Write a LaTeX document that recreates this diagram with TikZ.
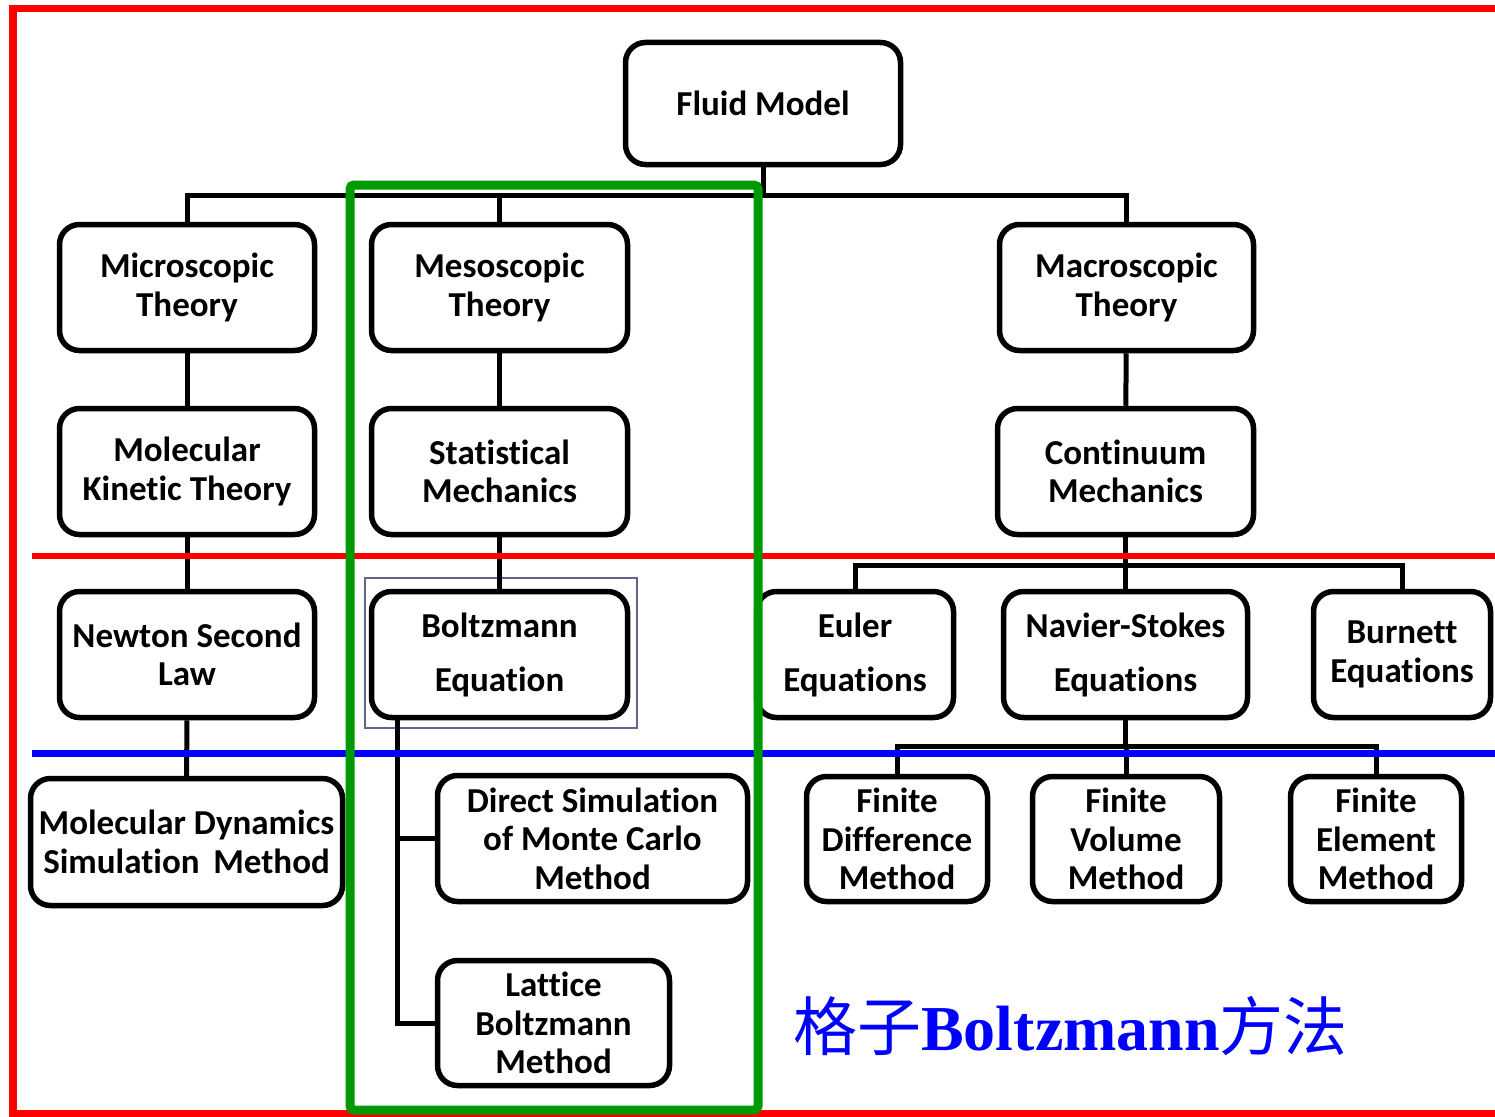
\documentclass[tikz,border=0pt]{standalone}
\usepackage{fontspec}
\setmainfont{Carlito}[Ligatures=NoCommon]
\newfontfamily\cjkfont{Noto Sans CJK SC}
\newfontfamily\serifbold{Liberation Serif}
\usetikzlibrary{calc}
\definecolor{myred}{RGB}{255,0,0}
\definecolor{mygreen}{RGB}{0,153,0}
\definecolor{myblue}{RGB}{0,0,255}
\definecolor{framec}{RGB}{100,100,140}
\newcommand\bxfont{\bfseries\fontsize{35}{38.5}\selectfont}
\begin{document}
\begin{tikzpicture}[x=1pt,y=-1pt,
  box/.style={draw, line width=5.5pt, rounded corners=20pt, fill=white, align=center, inner sep=0pt, font=\bxfont},
  conn/.style={line width=5pt},
  sepline/.style={line width=7pt},
]
\useasboundingbox (0,0) rectangle (1495,1116);
\clip (0,0) rectangle (1495,1116);
\fill[white] (0,0) rectangle (1495,1116);

% bus levels
\coordinate (b1) at (0,195);
\coordinate (b2) at (0,565);
\coordinate (b3) at (0,746);

% Boltzmann thin frame
\node[draw=framec, line width=1.5pt, minimum width=272, minimum height=150, inner sep=0pt] (bframe) at (501,653) {};

% boxes
\node[box, minimum width=275, minimum height=122] (fluid) at (763,103.5) {Fluid Model};
\node[box, minimum width=255, minimum height=126] (micro) at (187,287.5) {Microscopic\\Theory};
\node[box, minimum width=256, minimum height=126] (meso) at (499.5,287.5) {Mesoscopic\\Theory};
\node[box, minimum width=254, minimum height=126] (macro) at (1126.5,287.5) {Macroscopic\\Theory};
\node[box, minimum width=255, minimum height=126] (mkt) at (187,471.5) {Molecular\\Kinetic Theory};
\node[box, minimum width=256, minimum height=126] (stat) at (499.5,471.5) {Statistical\\Mechanics};
\node[box, minimum width=256, minimum height=126] (cont) at (1125.5,471.5) {Continuum\\Mechanics};
\node[box, minimum width=255, minimum height=126] (newton) at (187,654.5) {Newton Second\\Law};
\node[box, minimum width=256, minimum height=126] (boltz) at (499.5,654.5) {Boltzmann\\[15.5pt]Equation};
\node[box, minimum width=197, minimum height=126] (euler) at (855,654.5) {Euler\\[15.5pt]Equations};
\node[box, minimum width=244, minimum height=126] (ns) at (1125.5,654.5) {Navier-Stokes\\[15.5pt]Equations};
\node[box, minimum width=177, minimum height=126] (burnett) at (1402,654.5) {Burnett\\Equations};
\node[box, minimum width=312, minimum height=127] (md) at (186.5,842) {Molecular Dynamics\\Simulation\ \,Method};
\node[box, minimum width=310, minimum height=126] (dsmc) at (592.5,838.5) {Direct Simulation\\of Monte Carlo\\Method};
\node[box, minimum width=232, minimum height=125] (lbm) at (553.5,1023) {Lattice\\Boltzmann\\Method};
\node[box, minimum width=181, minimum height=125] (fd) at (897,839) {Finite\\Difference\\Method};
\node[box, minimum width=187, minimum height=125] (fv) at (1126,839) {Finite\\Volume\\Method};
\node[box, minimum width=171, minimum height=125] (fe) at (1376,839) {Finite\\Element\\Method};

% connectors
\draw[conn] (fluid.south) -- (fluid.south |- b1);
\draw[conn] (micro.north) -- (micro.north |- b1) -| (macro.north);
\draw[conn] (meso.north) -- (meso.north |- b1);
\draw[conn] (micro) -- (mkt);
\draw[conn] (mkt) -- (newton);
\draw[conn] (newton) -- (md);
\draw[conn] (meso) -- (stat);
\draw[conn] (stat) -- (boltz);
\draw[conn] (macro) -- (cont);
\draw[conn] (cont.south) -- (cont.south |- b2);
\draw[conn] (euler.north) -- (euler.north |- b2) -| (burnett.north);
\draw[conn] (ns.north) -- (ns.north |- b2);
\draw[conn] (ns.south) -- (ns.south |- b3);
\draw[conn] (fd.north) -- (fd.north |- b3) -| (fe.north);
\draw[conn] (fv.north) -- (fv.north |- b3);
\coordinate (bstem) at ($(boltz.south west)+(29,0)$);
\draw[conn] (bstem) |- (dsmc.west);
\draw[conn] (bstem) |- (lbm.west);

% red frame and separating lines
\draw[myred, line width=7.5pt] (1500,8.5) -- (13,8.5) -- (13,1114) -- (1500,1114);
\draw[myred, sepline, line width=6.5pt] (32,556) -- (1500,556);
\draw[myblue, sepline] (32,753) -- (1500,753);

% green frame
\draw[mygreen, line width=9pt, rounded corners=4pt] (350,185) rectangle (758,1110);

% caption
\node[anchor=base west, inner sep=0pt, text=myblue, font=\fontsize{64}{70}\selectfont] (cap) at (793,1050) {\cjkfont 格子\serifbold\bfseries Boltzmann\cjkfont\mdseries 方法};
\end{tikzpicture}
\end{document}
